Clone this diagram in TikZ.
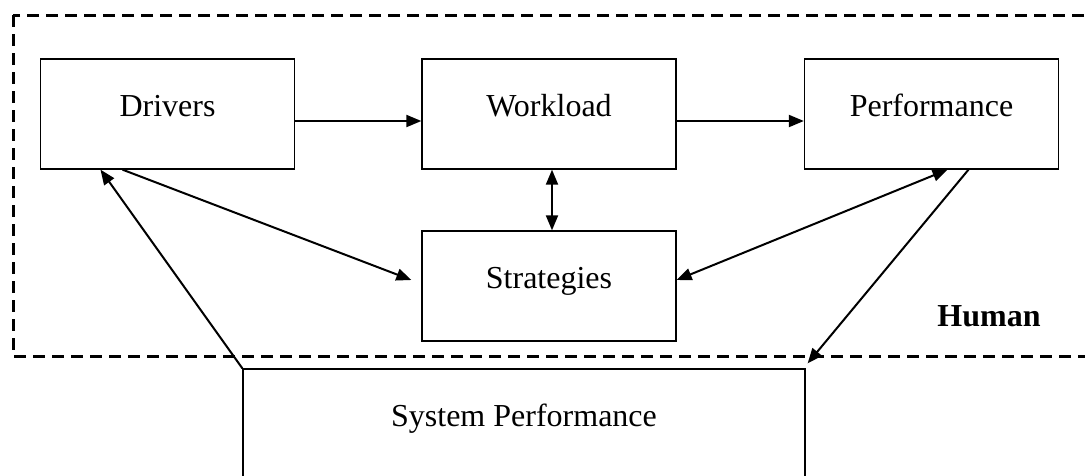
\documentclass[tikz,border=0pt]{standalone}
\usepackage{fontspec}
\setmainfont{Liberation Serif}
\usetikzlibrary{arrows.meta}
\tikzset{
	box/.style={draw,line width=1.3pt,rectangle,minimum width=254pt,minimum height=110pt,inner sep=0pt,
		text height=22pt,text depth=18pt,font=\fontsize{32}{38}\selectfont},
	link/.style={line width=2pt},
	frame/.style={line width=3pt,dash pattern=on 12pt off 7pt},
	>={Triangle[length=15pt,width=12pt]}
}
\begin{document}
\begin{tikzpicture}[x=1pt,y=-1pt]
		\useasboundingbox (0,0) rectangle (1085,475);
		\clip (0,0) rectangle (1085,475);
		\draw[frame] (13,15) rectangle (1110,356);

		\node[box] (drivers) at (167.5,114) {Drivers};
		\node[box] (workload) at (549,114) {Workload};
		\node[box] (performance) at (931.5,114) {Performance};
		\node[box] (strategies) at (549,286) {Strategies};
		\node[box,minimum width=562pt] (sysperf) at (524,424) {System Performance};
		\node[inner sep=0pt,font=\fontsize{32}{38}\selectfont\bfseries] (human) at (989,316) {Human};

		\draw [->,link] ([yshift=-7]drivers.east) -- ([yshift=-7]workload.west);
		\draw [->,link] ([yshift=-7]workload.east) -- ([yshift=-7]performance.west);
		\draw [<->,link] ([xshift=3]workload.south) -- ([xshift=3]strategies.north);
		\draw [->,link] ([xshift=-45]drivers.south) -- ([xshift=-10,yshift=6]strategies.west);
		\draw [<->,link] ([xshift=16]performance.south) -- ([yshift=6]strategies.east);
		\draw [->,link] ([xshift=37]performance.south) -- ([xshift=2,yshift=5]sysperf.north east);
		\draw [->,link] (sysperf.north west) -- ([xshift=-67]drivers.south);
\end{tikzpicture}
\end{document}
